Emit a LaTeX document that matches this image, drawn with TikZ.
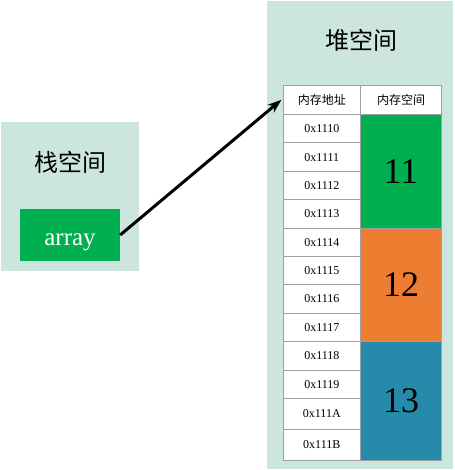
\documentclass[tikz,border=0pt]{standalone}
\usepackage{fontspec}
\setmainfont{Liberation Serif}
\newfontfamily\cjk{Noto Sans CJK SC}
\usetikzlibrary{arrows.meta}
\definecolor{panelbg}{RGB}{204,230,223}
\definecolor{cgreen}{RGB}{0,176,80}
\definecolor{corange}{RGB}{237,125,49}
\definecolor{cteal}{RGB}{38,139,170}
\definecolor{cgrid}{RGB}{160,160,160}
\tikzset{
  panel/.style={fill=panelbg, draw=none, inner sep=0pt},
  cell/.style={draw=cgrid, line width=0.8pt, fill=white, inner sep=0pt, minimum width=77pt, font=\fontsize{12}{14}\selectfont},
  valcell/.style={draw=cgrid, line width=0.8pt, inner sep=0pt, minimum width=81.4pt, font=\fontsize{36}{40}\selectfont},
  title/.style={font=\cjk\fontsize{24}{28}\selectfont},
  link/.style={-{Stealth[length=14pt,width=10pt]}, line width=3pt, black}
}
\begin{document}
\begin{tikzpicture}[x=1pt,y=-1pt]
\useasboundingbox (0,0) rectangle (454,470);
% panels
\node[panel, minimum width=138pt, minimum height=149pt] (stack) at (70,196.5) {};
\node[panel, minimum width=186pt, minimum height=468pt] (heap) at (360,235) {};
\node[title] (stacktitle) at (70,162) {栈空间};
\node[title] (heaptitle) at (361,40) {堆空间};
% array
\node[fill=cgreen, text=white, inner sep=0pt, minimum width=100pt, minimum height=52pt, text height=20pt, text depth=0pt, font=\fontsize{25}{28}\selectfont] (array) at (70,235) {array};
% headers
\node[cell, minimum height=29pt, font=\cjk\fontsize{12}{14}\selectfont] (hdr0) at (321.8,99.8) {内存地址};
\node[cell, minimum width=81.4pt, minimum height=29pt, font=\cjk\fontsize{12}{14}\selectfont] (hdr1) at (401,99.8) {内存空间};
% address rows
\foreach \t/\b/\lab/\i in {114.3/142.7/0x1110/0, 142.7/171.7/0x1111/1, 171.7/199.7/0x1112/2, 199.7/228.3/0x1113/3,
  228.3/256.3/0x1114/4, 256.3/284.3/0x1115/5, 284.3/313.3/0x1116/6, 313.3/341.3/0x1117/7,
  341.3/370.3/0x1118/8, 370.3/398.3/0x1119/9, 398.3/429.3/0x111A/10, 429.3/460/0x111B/11}{
  \pgfmathsetmacro\h{\b-\t}
  \pgfmathsetmacro\c{(\b+\t)/2}
  \node[cell, minimum height=\h pt] (addr\i) at (321.8,\c) {\lab};
}
% value blocks
\node[valcell, fill=cgreen, minimum height=114pt] (v11) at (401,171.3) {11};
\node[valcell, fill=corange, minimum height=113pt] (v12) at (401,284.8) {12};
\node[valcell, fill=cteal, minimum height=118.7pt] (v13) at (401,400.65) {13};
% arrow
\draw[link] (array.east) -- ([xshift=-1.5pt]hdr0.west);
\end{tikzpicture}
\end{document}
